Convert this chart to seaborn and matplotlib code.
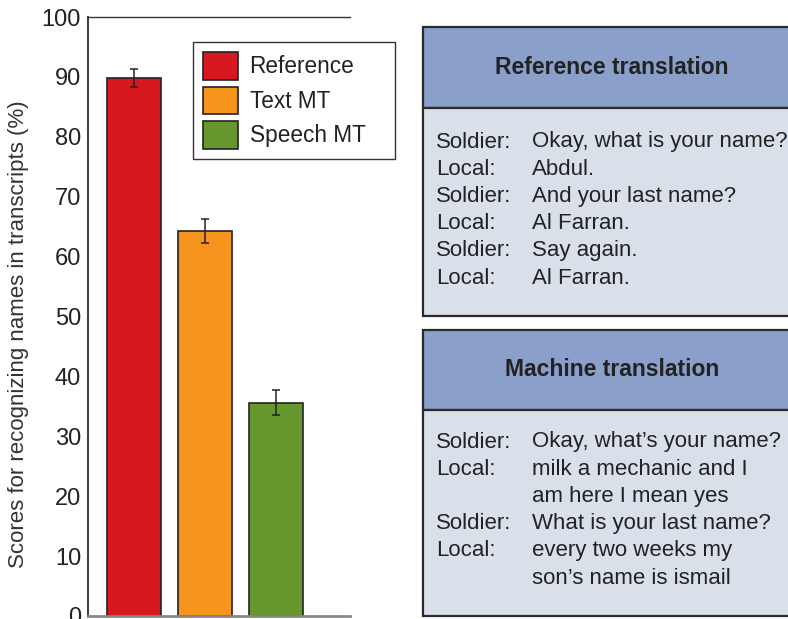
import pandas as pd
import seaborn as sns
import matplotlib.pyplot as plt
from matplotlib.patches import Patch, Rectangle

# ---- data ----
conditions = ['Reference', 'Text MT', 'Speech MT']
scores = [89.8, 64.2, 35.6]
errors = [1.5, 2.0, 2.1]
bar_colors = ['#D7191F', '#F7941D', '#66962E']
y_ticks = [0, 10, 20, 30, 40, 50, 60, 70, 80, 90, 100]
y_label = 'Scores for recognizing names in transcripts (%)'

ref_title = 'Reference translation'
ref_speakers = ['Soldier:', 'Local:', 'Soldier:', 'Local:', 'Soldier:', 'Local:']
ref_lines = ['Okay, what is your name?', 'Abdul.', 'And your last name?',
             'Al Farran.', 'Say again.', 'Al Farran.']

mt_title = 'Machine translation'
mt_speakers = ['Soldier:', 'Local:', '', 'Soldier:', 'Local:', '']
mt_lines = ['Okay, what\u2019s your name?', 'milk a mechanic and I',
            'am here I mean yes', 'What is your last name?',
            'every two weeks my', 'son\u2019s name is ismail']

sns.set_theme(style='white')
plt.rcParams['font.family'] = ['Liberation Sans', 'DejaVu Sans']

W, H = 788, 619
fig = plt.figure(figsize=(W / 100, H / 100), dpi=100)

# ---- bar chart ----
ax = fig.add_axes([88 / W, 3 / H, (350 - 88) / W, (616 - 17) / H])
df = pd.DataFrame({'condition': conditions, 'score': scores})
sns.barplot(data=df, x='condition', y='score', hue='condition',
            palette=bar_colors, saturation=1, width=0.76,
            edgecolor='#222222', linewidth=1.2, errorbar=None,
            legend=False, ax=ax)
ax.errorbar(x=range(len(scores)), y=scores, yerr=errors, fmt='none',
            ecolor='#222222', elinewidth=1.1, capsize=2.8, capthick=1.1)

ax.set_ylim(0, 100)
ax.set_xlim(-0.648, 3.04)
ax.set_yticks(y_ticks)
ax.set_xticks([])
ax.set_xlabel('')
ax.set_ylabel(y_label, fontsize=16, color='#333333')
ax.yaxis.set_label_coords(-0.225, 0.47)
ax.tick_params(axis='y', direction='in', length=9, width=1.2,
               color='#444444', labelsize=17, labelcolor='#222222', pad=5)
ax.spines['right'].set_visible(False)
ax.spines['top'].set_color('#333333')
ax.spines['top'].set_linewidth(1.0)
ax.spines['left'].set_color('#444444')
ax.spines['left'].set_linewidth(1.5)
ax.spines['bottom'].set_color('#888888')
ax.spines['bottom'].set_linewidth(2)

handles = [Patch(facecolor=c, edgecolor='#222222', linewidth=1.2, label=l)
           for c, l in zip(bar_colors, conditions)]
leg = ax.legend(handles=handles, loc='upper left', mode='expand',
                bbox_to_anchor=(193 / W, 1 - 177 / H, 202 / W, 135 / H),
                bbox_transform=fig.transFigure, borderaxespad=0,
                fontsize=16.3, handlelength=1.55, handleheight=1.5,
                labelspacing=0.3, handletextpad=0.5, borderpad=0.45,
                fancybox=False, framealpha=1, edgecolor='#333333')
leg.get_frame().set_linewidth(1.0)
for t in leg.get_texts():
    t.set_color('#222222')

# ---- dialogue panels ----
pan = fig.add_axes([0, 0, 1, 1], facecolor='none')
pan.set_xlim(0, W)
pan.set_ylim(H, 0)
pan.axis('off')


def draw_panel(top, split, bottom, title, speakers, lines, first_y):
    pan.add_patch(Rectangle((423, top), 400, split - top, facecolor='#8A9FC9',
                            edgecolor='#2a2a2a', linewidth=1.6))
    pan.add_patch(Rectangle((423, split), 400, bottom - split,
                            facecolor='#D9E0EA', edgecolor='#2a2a2a',
                            linewidth=1.6))
    pan.text(612, (top + split) / 2, title, ha='center', va='center',
             fontsize=16.5, fontweight='bold', color='#222222')
    for i, (sp, ln) in enumerate(zip(speakers, lines)):
        y = first_y + i * 27.2
        pan.text(436, y, sp, ha='left', va='center', fontsize=16,
                 color='#222222')
        pan.text(532, y, ln, ha='left', va='center', fontsize=16,
                 color='#222222')


draw_panel(27, 108, 316, ref_title, ref_speakers, ref_lines, 142)
draw_panel(330, 410, 616, mt_title, mt_speakers, mt_lines, 442)

fig.savefig('out.png', dpi=100)
